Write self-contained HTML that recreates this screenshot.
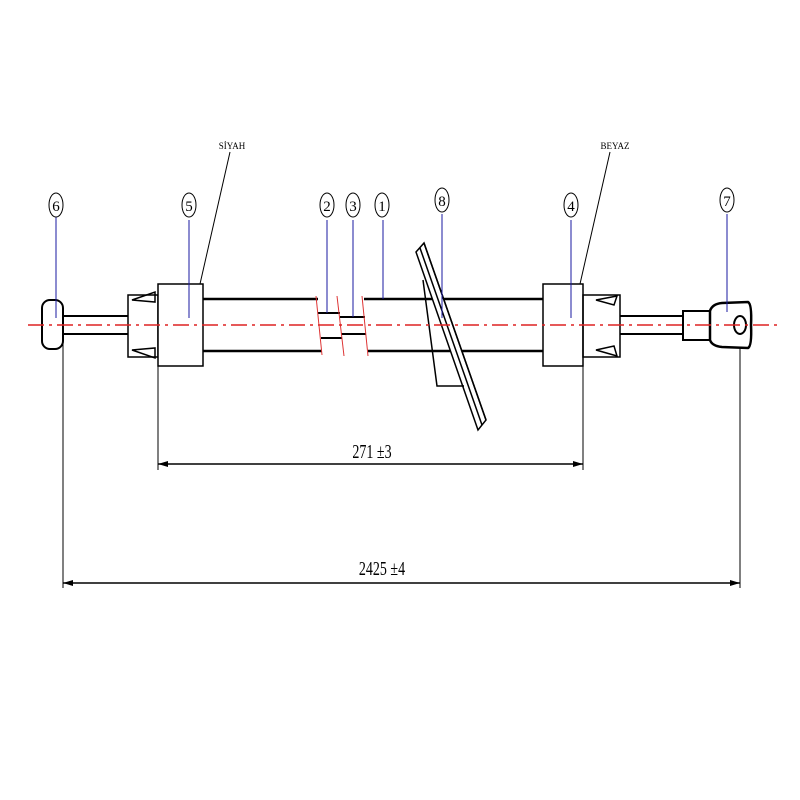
<!DOCTYPE html>
<html><head><style>html,body{margin:0;padding:0;background:#fff}svg{display:block}</style></head>
<body>
<svg width="800" height="800" viewBox="0 0 800 800" xmlns="http://www.w3.org/2000/svg" font-family="Liberation Serif, serif">
<defs>
<marker id="ar" markerWidth="10" markerHeight="6" refX="10" refY="3" orient="auto-start-reverse" markerUnits="userSpaceOnUse"><path d="M0,0 L10,3 L0,6 z" fill="#000"/></marker>
</defs>
<g stroke="#000" fill="none" stroke-width="1">
<!-- dimension ext lines -->
<line x1="158" y1="366" x2="158" y2="470"/>
<line x1="583" y1="366" x2="583" y2="470"/>
<line x1="63" y1="335" x2="63" y2="588"/>
<line x1="740" y1="333" x2="740" y2="588"/>
<line x1="158" y1="464" x2="583" y2="464" stroke-width="1.5" marker-start="url(#ar)" marker-end="url(#ar)"/>
<line x1="63" y1="583" x2="740" y2="583" stroke-width="1.5" marker-start="url(#ar)" marker-end="url(#ar)"/>
<!-- part 6 -->
<rect x="42" y="300" width="21" height="49" rx="8" stroke-width="2" fill="#fff"/>
<line x1="63" y1="316" x2="128" y2="316" stroke-width="2"/>
<line x1="63" y1="334" x2="128" y2="334" stroke-width="2"/>
<!-- part 5 -->
<rect x="128" y="295" width="30" height="62" stroke-width="1.5"/>
<path d="M132,300 L155,292 L155,302 Z M132,350 L155,348 L155,358 Z" stroke-width="1.5"/>
<rect x="158" y="284" width="45" height="82" stroke-width="1.5" fill="#fff"/>
<!-- tube -->
<line x1="203" y1="299" x2="318" y2="299" stroke-width="2.5"/>
<line x1="203" y1="351" x2="322" y2="351" stroke-width="2.5"/>
<line x1="364" y1="299" x2="543" y2="299" stroke-width="2.5"/>
<line x1="368" y1="351" x2="543" y2="351" stroke-width="2.5"/>
<line x1="318" y1="313" x2="340" y2="313" stroke-width="2"/>
<line x1="321" y1="338" x2="342" y2="338" stroke-width="2"/>
<line x1="340" y1="317" x2="365" y2="317" stroke-width="2"/>
<line x1="341" y1="334" x2="366" y2="334" stroke-width="2"/>
<!-- part 4 -->
<rect x="543" y="284" width="40" height="82" stroke-width="1.5" fill="#fff"/>
<rect x="583" y="295" width="37" height="62" stroke-width="1.5"/>
<path d="M596,300 L617,296 L614,305 Z M596,350 L617,356 L614,346 Z" stroke-width="1.5"/>
<line x1="620" y1="316" x2="683" y2="316" stroke-width="2"/>
<line x1="620" y1="334" x2="683" y2="334" stroke-width="2"/>
<!-- part 7 -->
<rect x="683" y="311" width="27" height="29" stroke-width="2"/>
<path d="M710,311 Q712,304 722,303 L748,302 Q752,304 751,325 Q752,346 748,348 L722,347 Q712,346 710,340 Z" stroke-width="2.5" fill="#fff"/>
<ellipse cx="740" cy="325" rx="6" ry="9" stroke-width="2"/>
<!-- part 8 -->
<path d="M416,252 L424,243 L486,420 L478,430 Z" stroke-width="1.5" fill="#fff"/>
<line x1="420" y1="248" x2="482" y2="425" stroke-width="1.5"/>
<line x1="424" y1="243" x2="486" y2="420" stroke-width="1.5"/>
<path d="M423,280 L437,386 L464,386" stroke-width="1.5"/>
<!-- SIYAH / BEYAZ leaders -->
<line x1="230" y1="152" x2="200" y2="284"/>
<line x1="610" y1="152" x2="580" y2="284"/>
</g>
<!-- break lines -->
<g stroke="#d33" stroke-width="1">
<line x1="316" y1="296" x2="322" y2="355"/>
<line x1="337" y1="296" x2="344" y2="356"/>
<line x1="362" y1="296" x2="368" y2="356"/>
</g>
<!-- centerline -->
<line x1="28" y1="325" x2="778" y2="325" stroke="#d22" stroke-width="1.5" stroke-dasharray="16,5,3,5"/>
<!-- balloons -->
<g stroke="#1a1aa0" stroke-width="1">
<line x1="56" y1="216" x2="56" y2="318"/>
<line x1="189" y1="220" x2="189" y2="318"/>
<line x1="327" y1="220" x2="327" y2="313"/>
<line x1="353" y1="220" x2="353" y2="317"/>
<line x1="383" y1="220" x2="383" y2="299"/>
<line x1="442" y1="214" x2="442" y2="318"/>
<line x1="571" y1="220" x2="571" y2="318"/>
<line x1="727" y1="214" x2="727" y2="312"/>
</g>
<g stroke="#000" stroke-width="1" fill="#fff">
<ellipse cx="56" cy="205" rx="7" ry="12"/>
<ellipse cx="189" cy="205" rx="7" ry="12"/>
<ellipse cx="327" cy="205" rx="7" ry="12"/>
<ellipse cx="353" cy="205" rx="7" ry="12"/>
<ellipse cx="382" cy="205" rx="7" ry="12"/>
<ellipse cx="442" cy="200" rx="7" ry="12"/>
<ellipse cx="571" cy="205" rx="7" ry="12"/>
<ellipse cx="727" cy="200" rx="7" ry="12"/>
</g>
<g font-size="15" text-anchor="middle" fill="#000">
<text x="56" y="211">6</text><text x="189" y="211">5</text><text x="327" y="211">2</text>
<text x="353" y="211">3</text><text x="382" y="211">1</text><text x="442" y="206">8</text>
<text x="571" y="211">4</text><text x="727" y="206">7</text>
</g>
<text x="232" y="149" font-size="9" text-anchor="middle">SİYAH</text>
<text x="615" y="149" font-size="9" text-anchor="middle">BEYAZ</text>
<text x="0" y="0" font-size="20" text-anchor="middle" transform="translate(372,458) scale(0.7,1)">271 ±3</text>
<text x="0" y="0" font-size="20" text-anchor="middle" transform="translate(382,575) scale(0.7,1)">2425 ±4</text>
</svg>
</body></html>
